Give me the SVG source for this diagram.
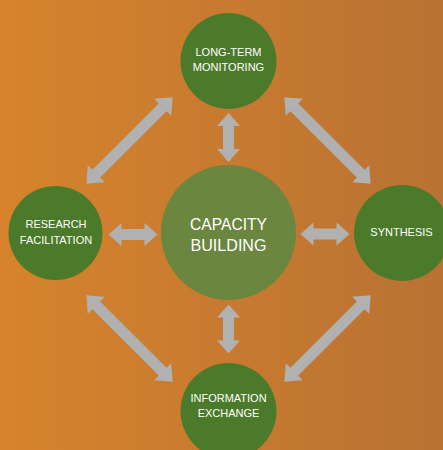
<svg xmlns="http://www.w3.org/2000/svg" xmlns:xlink="http://www.w3.org/1999/xlink" width="443" height="450" viewBox="0 0 443 450">
<defs>
<linearGradient id="bg" x1="0" y1="0" x2="1" y2="0">
<stop offset="0" stop-color="#d6832c"/>
<stop offset="1" stop-color="#b97233"/>
</linearGradient>
<path id="s" d="M-24.5,0 L-11.5,-11.5 L-11.5,-5.5 L11.5,-5.5 L11.5,-11.5 L24.5,0 L11.5,11.5 L11.5,5.5 L-11.5,5.5 L-11.5,11.5 Z"/>
<path id="d" d="M-61,0 L-47,-12 L-47,-5.5 L47,-5.5 L47,-12 L61,0 L47,12 L47,5.5 L-47,5.5 L-47,12 Z"/>
</defs>
<style>
.node{fill:#4b7a2a}
.core{fill:#6b863e}
.arr{fill:#b1b1b1}
text{font-family:"Liberation Sans",Arial,sans-serif;fill:#ffffff;text-anchor:middle}
.t{font-size:11px}
.c{font-size:17px}
</style>
<rect x="0" y="0" width="443" height="450" fill="url(#bg)"/>
<g id="connectors" class="arr">
<use xlink:href="#s" transform="translate(228.5,137.5) rotate(90)"/>
<use xlink:href="#s" transform="translate(228.5,329) rotate(90)"/>
<use xlink:href="#s" transform="translate(133,234.5)"/>
<use xlink:href="#s" transform="translate(325,234)"/>
<use xlink:href="#d" transform="translate(129.5,140.5) rotate(-45)"/>
<use xlink:href="#d" transform="translate(327.5,140.5) rotate(45)"/>
<use xlink:href="#d" transform="translate(129.5,338.5) rotate(45)"/>
<use xlink:href="#d" transform="translate(327.5,338.5) rotate(-45)"/>
</g>
<g id="capacity-building">
<circle class="core" cx="228.5" cy="232.5" r="67.5"/>
<text class="c" x="228.5" y="230" textLength="77" lengthAdjust="spacingAndGlyphs">CAPACITY</text>
<text class="c" x="228.5" y="250.5" textLength="76" lengthAdjust="spacingAndGlyphs">BUILDING</text>
</g>
<g id="long-term-monitoring">
<circle class="node" cx="228.5" cy="61" r="48"/>
<text class="t" x="228.5" y="56">LONG-TERM</text>
<text class="t" x="228.5" y="71">MONITORING</text>
</g>
<g id="research-facilitation">
<circle class="node" cx="55.5" cy="233" r="47"/>
<text class="t" x="56" y="228">RESEARCH</text>
<text class="t" x="56" y="244">FACILITATION</text>
</g>
<g id="synthesis">
<circle class="node" cx="402" cy="233" r="48"/>
<text class="t" x="401.5" y="236">SYNTHESIS</text>
</g>
<g id="information-exchange">
<circle class="node" cx="228.5" cy="411" r="48"/>
<text class="t" x="228.5" y="402">INFORMATION</text>
<text class="t" x="228.5" y="417">EXCHANGE</text>
</g>
</svg>
